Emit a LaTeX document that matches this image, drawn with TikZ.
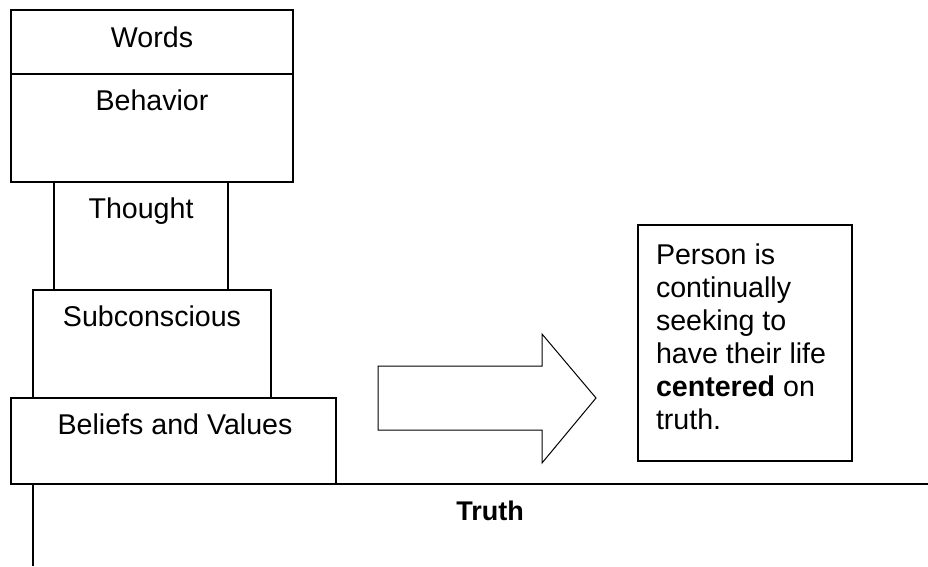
\documentclass[tikz,border=0pt]{standalone}
\usepackage{fontspec}
\setmainfont{Liberation Sans}
\begin{document}
\begin{tikzpicture}[x=1pt,y=-1pt,
  line width=1.2pt,
  every node/.style={font=\fontsize{28.6}{33}\selectfont, inner sep=0pt, outer sep=0pt},
  blk/.style={draw, anchor=north west, line width=1.2pt},
  lbl/.style={anchor=base}]
\useasboundingbox (0,0) rectangle (928,566);
% stacked boxes
\node[blk, minimum width=282pt, minimum height=64pt] (words) at (11,10) {};
\node[blk, minimum width=282pt, minimum height=108pt] (behav) at (11,74) {};
\node[blk, minimum width=174pt, minimum height=108pt] (thought) at (54,182) {};
\node[blk, minimum width=238pt, minimum height=108pt] (subc) at (33,290) {};
\node[blk, minimum width=325pt, minimum height=86pt] (belief) at (11,398) {};
\node[lbl] (twords) at ([yshift=-37pt]words.north) {Words};
\node[lbl] (tbehav) at ([yshift=-36pt]behav.north) {Behavior};
\node[lbl] (tthought) at ([yshift=-36pt]thought.north) {Thought};
\node[lbl] (tsubc) at ([yshift=-36pt]subc.north) {Subconscious};
\node[lbl] (tbelief) at ([xshift=1.5pt,yshift=-36pt]belief.north) {Beliefs and Values};
% truth line
\coordinate (lineR) at (928,484);
\coordinate (vbot) at (33,566);
\coordinate (vtop) at (33,484);
\draw (belief.south east) -- (lineR);
\draw (vtop) -- (vbot);
\node[lbl, font=\fontsize{27}{33}\selectfont\bfseries] (truth) at (490,520) {Truth};
% big arrow
\draw[line width=1pt, line join=miter] (378,366) -- (542,366) -- (542,334) -- (596,398)
  -- (542,463) -- (542,430) -- (378,430) -- cycle;
% text box
\node[blk, minimum width=214pt, minimum height=236pt] (tbox) at (638,225) {};
\node[anchor=north west, align=left, text depth=0pt] (ttext) at (656,244)
  {Person is\\continually\\seeking to\\have their life\\\textbf{centered} on\\truth.};
\end{tikzpicture}
\end{document}
